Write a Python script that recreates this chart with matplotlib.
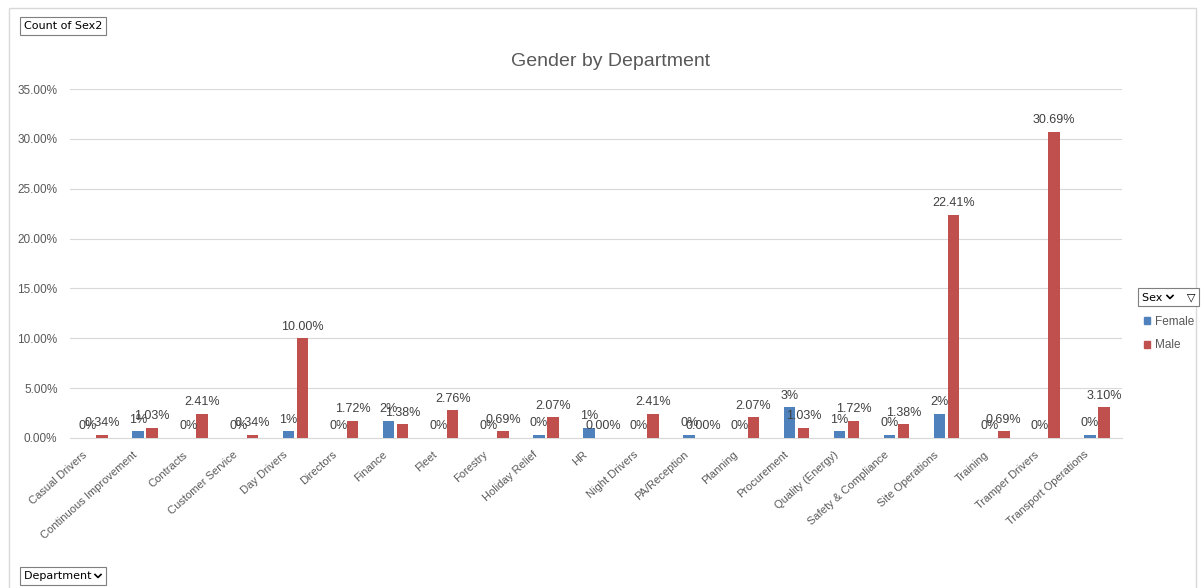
import numpy as np
import matplotlib
matplotlib.use('Agg')
import matplotlib.pyplot as plt
import matplotlib.transforms as mtransforms
from matplotlib.patches import Rectangle, Patch
from matplotlib.lines import Line2D
from matplotlib.ticker import PercentFormatter

plt.rcParams['font.family'] = ['Liberation Sans', 'DejaVu Sans']

# Data (share of grand total)
departments = ['Casual Drivers', 'Continuous Improvement', 'Contracts', 'Customer Service',
               'Day Drivers', 'Directors', 'Finance', 'Fleet', 'Forestry', 'Holiday Relief',
               'HR', 'Night Drivers', 'PA/Reception', 'Planning', 'Procurement',
               'Quality (Energy)', 'Safety & Compliance', 'Site Operations', 'Training',
               'Tramper Drivers', 'Transport Operations']
female = [0.0, 0.0069, 0.0, 0.0, 0.0069, 0.0, 0.0172, 0.0, 0.0, 0.0034,
          0.0103, 0.0, 0.0034, 0.0, 0.0310, 0.0069, 0.0034, 0.0241, 0.0,
          0.0, 0.0034]
male = [0.0034, 0.0103, 0.0241, 0.0034, 0.1000, 0.0172, 0.0138, 0.0276, 0.0069, 0.0207,
        0.0, 0.0241, 0.0, 0.0207, 0.0103, 0.0172, 0.0138, 0.2241, 0.0069,
        0.3069, 0.0310]

blue = '#4F81BD'
red = '#C0504D'
grey_txt = '#595959'
grid_col = '#D9D9D9'

W, H = 1203, 588
fig = plt.figure(figsize=(W / 100, H / 100), dpi=100)
ax = fig.add_axes([70 / W, 1 - 438 / H, (1122 - 70) / W, (438 - 89) / H])

x = np.arange(len(departments))
bw = 0.23
off = 0.14
b1 = ax.bar(x - off, female, bw, color=blue, label='Female', zorder=3)
b2 = ax.bar(x + off, male, bw, color=red, label='Male', zorder=3)

ax.bar_label(b1, labels=[f'{v:.0%}' for v in female], padding=4, fontsize=9, color='#404040')
ax.bar_label(b2, labels=[f'{v:.2%}' for v in male], padding=4, fontsize=9, color='#404040')

ax.set_xlim(-0.5, len(departments) - 0.5)
ax.set_ylim(0, 0.35)
ax.set_yticks(np.arange(0, 0.351, 0.05))
ax.yaxis.set_major_formatter(PercentFormatter(1.0, decimals=2))
ax.grid(axis='y', color=grid_col, linewidth=0.8, zorder=0)
for s in ['top', 'right', 'left']:
    ax.spines[s].set_visible(False)
ax.spines['bottom'].set_color(grid_col)
ax.tick_params(axis='y', length=0, pad=9, labelsize=8.5, labelcolor=grey_txt)
ax.tick_params(axis='x', length=0, pad=4)
ax.set_xticks(x)
ax.set_xticklabels(departments, rotation=42, ha='right', rotation_mode='anchor',
                   fontsize=8, color=grey_txt)
shift = mtransforms.ScaledTranslation(-13 / 100, -6 / 100, fig.dpi_scale_trans)
for lbl in ax.get_xticklabels():
    lbl.set_transform(lbl.get_transform() + shift)

fig.text(611 / W, 1 - 61 / H, 'Gender by Department', ha='center', va='center',
         fontsize=14, color=grey_txt)

# outer chart border
fig.patches.append(Rectangle((9 / W, -0.05), (1196 - 9) / W, 1.05 - 8 / H,
                             transform=fig.transFigure, fill=False,
                             edgecolor=grid_col, linewidth=1))

# pivot field buttons
btn = dict(boxstyle='square,pad=0.35', facecolor='white', edgecolor='#7f7f7f', linewidth=0.8)
fig.text(24 / W, 1 - 26 / H, 'Count of Sex2', ha='left', va='center', fontsize=8,
         family='DejaVu Sans', color='black', bbox=btn)
fig.text(24 / W, 1 - 576 / H, 'Department   ', ha='left', va='center', fontsize=8,
         family='DejaVu Sans', color='black', bbox=btn)
fig.text(1142 / W, 1 - 297 / H, 'Sex       \u25bd', ha='left', va='center', fontsize=8,
         family='DejaVu Sans', color='black', bbox=btn)
for cx, cy in [(98, 576), (1170, 297)]:
    fig.add_artist(Line2D([(cx - 3) / W, cx / W, (cx + 3) / W],
                          [1 - (cy - 1.5) / H, 1 - (cy + 1.5) / H, 1 - (cy - 1.5) / H],
                          transform=fig.transFigure, color='black', linewidth=1.2,
                          zorder=10))

handles = [Patch(color=blue, label='Female'), Patch(color=red, label='Male')]
fig.legend(handles=handles, loc='upper left', bbox_to_anchor=(1133 / W, 1 - 305 / H),
           frameon=False, fontsize=8.5, labelcolor=grey_txt, handlelength=0.5,
           handleheight=0.5, handletextpad=0.5, labelspacing=1.0)

fig.savefig('out.png', dpi=100)
